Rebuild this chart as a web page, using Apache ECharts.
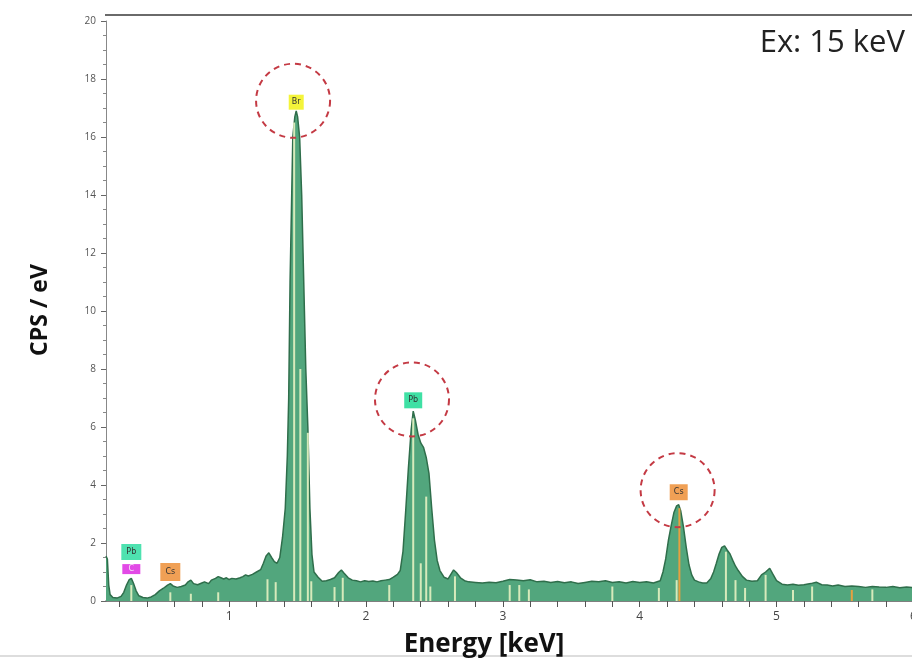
<!DOCTYPE html>
<html><head><meta charset="utf-8">
<script src="https://cdn.jsdelivr.net/npm/echarts@6/dist/echarts.min.js"></script>
<style>html,body{margin:0;padding:0;background:#fff;}#c{width:912px;height:658px;}</style>
</head><body><div id="c"></div>
<script>
// Spectrum: energy (keV) and counts (CPS/eV)
const energy = [0.10,0.11,0.12,0.13,0.15,0.18,0.21,0.23,0.25,0.27,0.285,0.30,0.32,0.34,0.37,0.40,0.43,0.46,0.49,0.52,0.55,0.57,0.59,0.62,0.65,0.68,0.70,0.72,0.74,0.77,0.80,0.82,0.85,0.87,0.90,0.92,0.94,0.96,0.98,1.00,1.02,1.05,1.08,1.10,1.12,1.14,1.17,1.20,1.23,1.25,1.27,1.29,1.31,1.33,1.35,1.37,1.39,1.41,1.425,1.435,1.445,1.455,1.465,1.48,1.49,1.50,1.515,1.53,1.54,1.55,1.56,1.575,1.59,1.605,1.62,1.65,1.68,1.71,1.74,1.77,1.80,1.82,1.84,1.87,1.90,1.93,1.96,1.99,2.02,2.05,2.08,2.11,2.14,2.17,2.20,2.23,2.25,2.27,2.29,2.31,2.33,2.345,2.36,2.38,2.40,2.42,2.44,2.46,2.48,2.50,2.52,2.54,2.57,2.60,2.62,2.64,2.66,2.69,2.72,2.75,2.80,2.85,2.90,2.95,3.00,3.05,3.10,3.15,3.20,3.25,3.30,3.35,3.40,3.45,3.50,3.55,3.60,3.65,3.70,3.75,3.80,3.85,3.90,3.95,4.00,4.05,4.10,4.15,4.17,4.19,4.21,4.23,4.25,4.27,4.285,4.30,4.32,4.34,4.36,4.38,4.40,4.43,4.46,4.49,4.52,4.54,4.56,4.58,4.60,4.62,4.64,4.66,4.68,4.70,4.72,4.75,4.78,4.82,4.86,4.89,4.92,4.95,4.97,5.00,5.04,5.08,5.12,5.16,5.20,5.25,5.29,5.33,5.37,5.41,5.45,5.50,5.55,5.60,5.65,5.70,5.75,5.80,5.85,5.90,5.95,6.00];
const cps = [1.55,1.45,0.55,0.22,0.12,0.10,0.16,0.30,0.55,0.74,0.78,0.62,0.35,0.18,0.12,0.10,0.14,0.22,0.35,0.44,0.55,0.60,0.52,0.47,0.50,0.55,0.66,0.72,0.60,0.56,0.62,0.66,0.60,0.72,0.78,0.84,0.80,0.76,0.80,0.74,0.78,0.76,0.80,0.84,0.90,0.86,0.92,1.00,1.08,1.30,1.55,1.66,1.50,1.36,1.30,1.50,2.20,3.20,5.00,7.00,11.0,13.5,16.0,16.7,16.9,16.7,16.0,14.0,12.0,10.0,8.0,6.0,3.2,1.6,1.00,0.82,0.68,0.70,0.74,0.80,0.98,1.07,0.96,0.80,0.72,0.70,0.66,0.70,0.67,0.69,0.66,0.70,0.72,0.74,0.82,0.92,1.05,1.70,3.10,4.60,5.90,6.55,6.25,5.75,5.45,5.30,4.95,4.40,3.20,2.10,1.40,1.05,0.82,0.76,0.92,1.07,0.98,0.80,0.70,0.66,0.64,0.62,0.65,0.63,0.68,0.74,0.72,0.70,0.73,0.66,0.68,0.64,0.67,0.63,0.66,0.60,0.64,0.68,0.66,0.70,0.64,0.66,0.62,0.67,0.64,0.66,0.62,0.70,1.00,1.45,2.10,2.60,3.05,3.28,3.32,3.10,2.55,1.85,1.25,0.90,0.72,0.66,0.62,0.62,0.78,1.00,1.30,1.62,1.85,1.90,1.75,1.62,1.40,1.20,1.05,0.85,0.72,0.68,0.70,0.90,1.00,1.13,0.95,0.70,0.58,0.55,0.58,0.54,0.56,0.60,0.65,0.56,0.55,0.52,0.55,0.50,0.52,0.50,0.47,0.50,0.48,0.47,0.50,0.46,0.48,0.46];

// Element marker lines (light) and (orange)
const markE = [0.285,0.57,0.72,0.92,1.28,1.34,1.475,1.52,1.575,1.60,1.77,1.83,2.17,2.345,2.40,2.44,2.47,2.65,3.05,3.12,3.19,3.80,4.14,4.27,4.63,4.70,4.77,4.92,5.12,5.26,5.70];
const markH = [0.55,0.30,0.25,0.30,0.75,0.65,16.5,8.0,5.8,0.68,0.48,0.80,0.55,6.3,1.3,3.6,0.5,0.85,0.55,0.55,0.40,0.50,0.45,0.72,1.7,0.72,0.45,0.90,0.38,0.50,0.40];
const orangeE = [4.29,5.55];
const orangeH = [3.2,0.38];

// Element tags
const tagNames = ['Br','Pb','Cs','Pb','C','Cs'];
const tagE = [1.49,2.345,4.285,0.285,0.285,0.57];
const tagV = [17.2,6.92,3.75,1.69,1.10,1.00];
// Circled peaks
const circleE = [1.467,2.336,4.277];
const circleV = [17.25,6.95,3.82];

const xTicks = [0.2,0.4,0.6,0.8,1.0,1.2,1.4,1.6,1.8,2.0,2.2,2.4,2.6,2.8,3.0,3.2,3.4,3.6,3.8,4.0,4.2,4.4,4.6,4.8,5.0,5.2,5.4,5.6,5.8,6.0];
const xLabels = [1,2,3,4,5,6];

const tagColors = ['#f4f43a','#3fe0a4','#f0a055','#4ee2b0','#e24ae6','#f0a055'];
const tagSizes = [[15,15],[18,16],[18,16],[20,16],[18,10],[20,18]];

const chart = echarts.init(document.getElementById('c'));
chart.setOption({
  animation:false,
  backgroundColor:'#ffffff',
  grid:{left:106,top:21,width:807.4,height:580,outerBoundsMode:'none',containLabel:false},
  xAxis:{type:'value',min:0.1,max:6,
    axisLine:{lineStyle:{color:'#555',width:1.5}},
    axisTick:{customValues:xTicks,length:6,lineStyle:{color:'#555'}},
    axisLabel:{customValues:xLabels,color:'#444',fontSize:12,margin:10,fontFamily:'Open Sans'},
    splitLine:{show:false}},
  yAxis:{type:'value',min:0,max:20,interval:2,
    axisLine:{show:true,lineStyle:{color:'#888'}},
    axisTick:{show:true,length:5,lineStyle:{color:'#666'}},
    minorTick:{show:true,splitNumber:4,length:3,lineStyle:{color:'#888'}},
    axisLabel:{color:'#555',fontSize:10,margin:10,fontFamily:'Open Sans'},
    splitLine:{show:false}},
  series:[
    {type:'line',data:energy.map((e,i)=>[e,cps[i]]),symbol:'none',
     lineStyle:{color:'#2f6e4b',width:1.5},
     areaStyle:{color:'#52a67d',opacity:1},z:2},
    {type:'bar',data:markE.map((e,i)=>[e,markH[i]]),barWidth:2,
     itemStyle:{color:'#e6f2c2',opacity:0.9},z:3},
    {type:'bar',data:orangeE.map((e,i)=>[e,orangeH[i]]),barWidth:2,barGap:'-100%',
     itemStyle:{color:'#e6a040'},z:3}
  ]
});

const g = [];
g.push({type:'line',shape:{x1:105,y1:15,x2:912,y2:15},style:{stroke:'#6a6a6a',lineWidth:2},z:10});
g.push({type:'line',shape:{x1:0,y1:656,x2:912,y2:656},style:{stroke:'#dddddd',lineWidth:2},z:10});
circleE.forEach((e,i)=>{
  const p = chart.convertToPixel({gridIndex:0},[e,circleV[i]]);
  g.push({type:'circle',shape:{cx:p[0],cy:p[1],r:37},style:{fill:'none',stroke:'#c43a44',lineWidth:2,lineDash:[6,5]},z:20});
});
tagNames.forEach((n,i)=>{
  const p = chart.convertToPixel({gridIndex:0},[tagE[i],tagV[i]]);
  const s = tagSizes[i];
  g.push({type:'rect',shape:{x:p[0]-s[0]/2,y:p[1]-s[1]/2,width:s[0],height:s[1]},style:{fill:tagColors[i]},z:21});
  g.push({type:'text',x:p[0],y:p[1],style:{text:n,fill:n==='C'?'#f8e0f8':'#333',fontSize:8,fontFamily:'DejaVu Sans',align:'center',verticalAlign:'middle'},z:22});
});
g.push({type:'text',x:905,y:43,style:{text:'Ex: 15 keV',fill:'#222',fontSize:31,fontFamily:'Open Sans',align:'right',verticalAlign:'middle'},z:30});
g.push({type:'text',x:40,y:310,rotation:Math.PI/2,style:{text:'CPS / eV',fill:'#111',fontSize:23,fontWeight:'bold',fontFamily:'Open Sans',align:'center',verticalAlign:'middle'},z:30});
g.push({type:'text',x:484,y:645,style:{text:'Energy [keV]',fill:'#111',fontSize:26,fontWeight:'bold',fontFamily:'Open Sans',align:'center',verticalAlign:'middle'},z:30});
chart.setOption({graphic:g});
</script></body></html>
